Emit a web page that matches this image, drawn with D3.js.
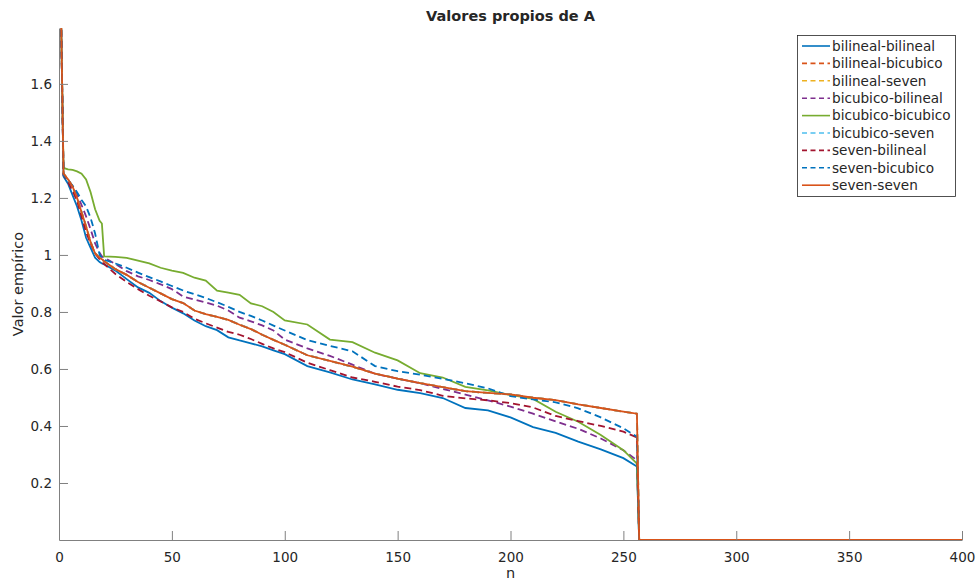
<!DOCTYPE html>
<html>
<head>
<meta charset="utf-8">
<script src="https://cdn.jsdelivr.net/npm/d3@7"></script>
<style>
  body { margin: 0; background: #fff; }
  text { font-family: "DejaVu Sans", sans-serif; fill: #262626; }
</style>
</head>
<body>
<div id="chart"></div>
<script>
// sample positions along n
var nVals = [1, 2, 4, 6, 8, 10, 12, 14, 16, 18, 19, 20, 25, 30, 35, 40, 45, 50, 55, 60, 65, 70, 75, 80, 85, 90, 95, 100,
  110, 120, 130, 140, 150, 160, 170, 180, 190, 200, 210, 220, 230, 240, 250, 256, 257, 400];

var bilBil = [1.79, 1.275, 1.25, 1.21, 1.17, 1.12, 1.06, 1.025, 0.99, 0.975, 0.97, 0.967, 0.945, 0.915, 0.886, 0.867, 0.838, 0.815, 0.795, 0.77, 0.75, 0.736, 0.711, 0.70, 0.69, 0.679, 0.665, 0.652,
  0.61, 0.588, 0.563, 0.546, 0.527, 0.515, 0.498, 0.463, 0.455, 0.43, 0.396, 0.376, 0.345, 0.318, 0.287, 0.258, 0, 0];

var sevSev = [1.796, 1.285, 1.265, 1.24, 1.20, 1.15, 1.10, 1.045, 1.005, 0.99, 0.985, 0.978, 0.95, 0.93, 0.905, 0.885, 0.865, 0.845, 0.831, 0.805, 0.792, 0.783, 0.772, 0.755, 0.74, 0.72, 0.702, 0.685,
  0.648, 0.628, 0.608, 0.584, 0.566, 0.55, 0.536, 0.522, 0.516, 0.511, 0.499, 0.491, 0.476, 0.463, 0.45, 0.443, 0, 0];

var bicBil = [1.79, 1.28, 1.263, 1.24, 1.213, 1.175, 1.135, 1.09, 1.04, 1.008, 0.995, 0.99, 0.968, 0.943, 0.925, 0.912, 0.897, 0.88, 0.854, 0.843, 0.833, 0.822, 0.805, 0.78, 0.767, 0.753, 0.735, 0.703,
  0.672, 0.646, 0.615, 0.583, 0.566, 0.55, 0.53, 0.51, 0.49, 0.468, 0.443, 0.416, 0.39, 0.356, 0.315, 0.28, 0, 0];

var bicBic = [1.79, 1.305, 1.30, 1.298, 1.293, 1.285, 1.265, 1.22, 1.16, 1.12, 1.11, 0.995, 0.993, 0.99, 0.98, 0.97, 0.955, 0.945, 0.937, 0.92, 0.91, 0.875, 0.868, 0.86, 0.83, 0.82, 0.80, 0.77,
  0.756, 0.703, 0.694, 0.657, 0.63, 0.585, 0.57, 0.537, 0.525, 0.509, 0.495, 0.45, 0.415, 0.368, 0.315, 0.268, 0, 0];

var sevBil = [1.79, 1.28, 1.255, 1.225, 1.19, 1.134, 1.08, 1.04, 1.005, 0.985, 0.975, 0.968, 0.933, 0.905, 0.88, 0.857, 0.837, 0.816, 0.80, 0.776, 0.76, 0.745, 0.73, 0.72, 0.705, 0.688, 0.672, 0.659,
  0.622, 0.596, 0.57, 0.555, 0.538, 0.526, 0.506, 0.497, 0.49, 0.48, 0.465, 0.435, 0.417, 0.40, 0.38, 0.36, 0, 0];

var sevBic = [1.79, 1.28, 1.262, 1.243, 1.22, 1.193, 1.17, 1.13, 1.075, 1.00, 0.99, 0.983, 0.97, 0.955, 0.938, 0.922, 0.907, 0.891, 0.875, 0.862, 0.849, 0.834, 0.818, 0.80, 0.786, 0.77, 0.752, 0.735,
  0.701, 0.681, 0.662, 0.61, 0.592, 0.58, 0.565, 0.55, 0.532, 0.505, 0.493, 0.483, 0.462, 0.43, 0.392, 0.362, 0, 0];

// these three are hidden under the seven-seven line in the picture
var bilBic = sevSev.slice();
var bilSev = sevSev.slice();
var bicSev = sevSev.slice();

var names = ["bilineal-bilineal", "bilineal-bicubico", "bilineal-seven", "bicubico-bilineal", "bicubico-bicubico",
  "bicubico-seven", "seven-bilineal", "seven-bicubico", "seven-seven"];
var seriesVals = [bilBil, bilBic, bilSev, bicBil, bicBic, bicSev, sevBil, sevBic, sevSev];
var colors = ["#0072BD", "#D95319", "#EDB120", "#7E2F8E", "#77AC30", "#4DBEEE", "#A2142F", "#0072BD", "#D95319"];
var dashed = [false, true, true, true, false, true, true, true, false];

var xTicks = [0, 50, 100, 150, 200, 250, 300, 350, 400];
var yTicks = [0.2, 0.4, 0.6, 0.8, 1, 1.2, 1.4, 1.6];

var width = 978, height = 581;
var margin = {left: 59, right: 16, top: 28, bottom: 41};

var svg = d3.select("#chart").append("svg")
    .attr("width", width)
    .attr("height", height);

var x = d3.scaleLinear().domain([0, 400]).range([margin.left, width - margin.right]);
var y = d3.scaleLinear().domain([0, 1.796]).range([height - margin.bottom, margin.top]);

svg.append("clipPath").attr("id", "clip")
  .append("rect")
    .attr("x", margin.left)
    .attr("y", margin.top)
    .attr("width", width - margin.left - margin.right)
    .attr("height", height - margin.top - margin.bottom);

// lines
var line = d3.line()
    .x(function(d) { return x(d.n); })
    .y(function(d) { return y(d.v); });

var series = names.map(function(name, i) {
  return {
    name: name,
    color: colors[i],
    dashed: dashed[i],
    values: nVals.map(function(n, j) { return {n: n, v: seriesVals[i][j]}; })
  };
});

svg.append("g")
    .attr("clip-path", "url(#clip)")
  .selectAll("path")
  .data(series).enter()
  .append("path")
    .attr("d", function(d) { return line(d.values); })
    .attr("fill", "none")
    .attr("stroke", function(d) { return d.color; })
    .attr("stroke-width", 1.8)
    .attr("stroke-dasharray", function(d) { return d.dashed ? "7,4" : null; });

// axes
var xAxis = svg.append("g")
    .attr("transform", "translate(0," + (height - margin.bottom) + ")")
    .call(d3.axisBottom(x).tickValues(xTicks).tickSizeInner(-9).tickSizeOuter(0).tickPadding(12));

var yAxis = svg.append("g")
    .attr("transform", "translate(" + margin.left + ",0)")
    .call(d3.axisLeft(y).tickValues(yTicks).tickFormat(d3.format("")).tickSizeInner(-9).tickSizeOuter(0).tickPadding(7));

[xAxis, yAxis].forEach(function(a) {
  a.select(".domain").attr("stroke", "#808080").attr("stroke-width", 1);
  a.selectAll(".tick line").attr("stroke", "#808080");
  a.selectAll(".tick text").style("font-size", "13.5px").attr("fill", "#262626");
});

// labels
svg.append("text")
    .attr("x", (x(0) + x(400)) / 2)
    .attr("y", 21)
    .attr("text-anchor", "middle")
    .style("font-size", "14.5px")
    .style("font-weight", "bold")
    .attr("fill", "#000")
    .text("Valores propios de A");

svg.append("text")
    .attr("x", (x(0) + x(400)) / 2)
    .attr("y", 578)
    .attr("text-anchor", "middle")
    .style("font-size", "14.5px")
    .text("n");

svg.append("text")
    .attr("transform", "translate(23," + ((y(0) + y(1.796)) / 2) + ") rotate(-90)")
    .attr("text-anchor", "middle")
    .style("font-size", "14.5px")
    .text("Valor empírico");

// legend
var legend = svg.append("g");
legend.append("rect")
    .attr("x", 797.5)
    .attr("y", 35.5)
    .attr("width", 158)
    .attr("height", 161)
    .attr("fill", "#fff")
    .attr("stroke", "#262626")
    .attr("stroke-width", 0.8);

var items = legend.selectAll(".item")
  .data(series).enter()
  .append("g")
    .attr("class", "item")
    .attr("transform", function(d, i) { return "translate(0," + (46 + i * 17.4) + ")"; });

items.append("line")
    .attr("x1", 802).attr("x2", 830)
    .attr("stroke", function(d) { return d.color; })
    .attr("stroke-width", 1.6)
    .attr("stroke-dasharray", function(d) { return d.dashed ? "5,3.5" : null; });

items.append("text")
    .attr("x", 832)
    .attr("dy", "0.35em")
    .style("font-size", "13.6px")
    .text(function(d) { return d.name; });
</script>
</body>
</html>
